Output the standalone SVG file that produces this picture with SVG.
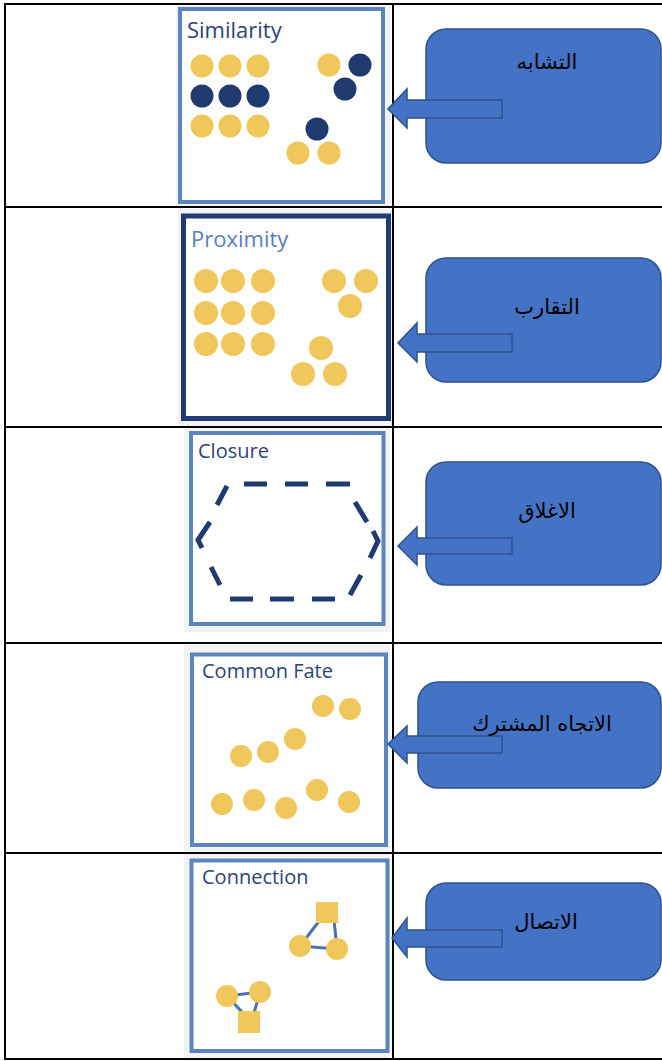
<svg xmlns="http://www.w3.org/2000/svg" width="662" height="1061" viewBox="0 0 662 1061">
<style>
.grid{stroke:#000;stroke-width:2;fill:none}
.bg{fill:#f3f3f3}
.frame{fill:#fff;stroke:#5a85bf;stroke-width:4}
.title{font-family:"Open Sans","Liberation Sans",sans-serif;font-size:20px;fill:#2e4374}
.big{font-size:22px}
.y{fill:#efc75a}
.n{fill:#1f3a6e}
.call{fill:#4472c4;stroke:#2f528f;stroke-width:1.5}
.ar{font-family:"DejaVu Sans","Noto Sans",sans-serif;font-size:21px;fill:#000;text-anchor:middle}
.link{stroke:#4a72b0;stroke-width:3}
.dash{stroke:#203b72;stroke-width:5;fill:none}
</style>
<rect width="662" height="1061" fill="#fff"/>
<g id="table">
<line class="grid" x1="5" y1="4" x2="662" y2="4"/>
<line class="grid" x1="5" y1="207" x2="662" y2="207"/>
<line class="grid" x1="5" y1="427" x2="662" y2="427"/>
<line class="grid" x1="5" y1="643" x2="662" y2="643"/>
<line class="grid" x1="5" y1="853" x2="662" y2="853"/>
<line class="grid" x1="5" y1="1059" x2="662" y2="1059"/>
<line class="grid" x1="5" y1="3" x2="5" y2="1060"/>
<line class="grid" x1="393" y1="3" x2="393" y2="1060"/>
</g>
<g id="similarity">
<rect class="bg" x="176" y="5" width="215" height="201"/>
<rect class="frame" x="180" y="9" width="203" height="193"/>
<text class="title big" x="187" y="38">Similarity</text>
<circle class="y" cx="202" cy="66" r="11.5"/><circle class="y" cx="230" cy="66" r="11.5"/><circle class="y" cx="258" cy="66" r="11.5"/>
<circle class="n" cx="202" cy="96" r="11.5"/><circle class="n" cx="230" cy="96" r="11.5"/><circle class="n" cx="258" cy="96" r="11.5"/>
<circle class="y" cx="202" cy="126" r="11.5"/><circle class="y" cx="230" cy="126" r="11.5"/><circle class="y" cx="258" cy="126" r="11.5"/>
<circle class="y" cx="329" cy="65" r="11.5"/><circle class="n" cx="360" cy="65" r="11.5"/><circle class="n" cx="345" cy="89" r="11.5"/>
<circle class="n" cx="317" cy="129" r="11.5"/><circle class="y" cx="298" cy="153" r="11.5"/><circle class="y" cx="329" cy="153" r="11.5"/>
</g>
<g id="proximity">
<rect class="bg" x="178" y="209" width="214" height="217"/>
<rect x="183.5" y="216" width="205" height="202.5" fill="#fff" stroke="#213b75" stroke-width="5"/>
<text class="title big" x="191" y="247" style="fill:#5a7ebd">Proximity</text>
<circle class="y" cx="206" cy="281" r="12"/><circle class="y" cx="233" cy="281" r="12"/><circle class="y" cx="263" cy="281" r="12"/>
<circle class="y" cx="206" cy="313" r="12"/><circle class="y" cx="233" cy="313" r="12"/><circle class="y" cx="263" cy="313" r="12"/>
<circle class="y" cx="206" cy="344" r="12"/><circle class="y" cx="233" cy="344" r="12"/><circle class="y" cx="263" cy="344" r="12"/>
<circle class="y" cx="334" cy="281" r="12"/><circle class="y" cx="366" cy="281" r="12"/><circle class="y" cx="350" cy="306" r="12"/>
<circle class="y" cx="321" cy="348" r="12"/><circle class="y" cx="303" cy="374" r="12"/><circle class="y" cx="335" cy="374" r="12"/>
</g>
<g id="closure">
<rect class="bg" x="184" y="428" width="206" height="204"/>
<rect class="frame" x="191" y="433" width="192.5" height="191"/>
<text class="title" x="198" y="458">Closure</text>
<path class="dash" d="M244 484H267M285 484H308M326 484H350M217 505L227 486M210 522L198 540L202 548M211 567L220 585M230 599H253M270 599H294M312 599H335M355 502L367 522M373 531L378 541L370 558M361 575L350 595"/>
</g>
<g id="common-fate">
<rect class="bg" x="184" y="645" width="206" height="207"/>
<rect class="frame" x="192" y="654.5" width="194" height="190.5"/>
<text class="title" x="202" y="678">Common Fate</text>
<circle class="y" cx="323" cy="706" r="11"/><circle class="y" cx="350" cy="709" r="11"/>
<circle class="y" cx="295" cy="739" r="11"/><circle class="y" cx="268" cy="752" r="11"/><circle class="y" cx="241" cy="756" r="11"/>
<circle class="y" cx="222" cy="804" r="11"/><circle class="y" cx="254" cy="800" r="11"/><circle class="y" cx="286" cy="808" r="11"/>
<circle class="y" cx="317" cy="790" r="11"/><circle class="y" cx="349" cy="802" r="11"/>
</g>
<g id="connection">
<rect class="bg" x="184" y="854" width="206" height="204"/>
<rect class="frame" x="191.5" y="860.5" width="196" height="190.5"/>
<text class="title" x="202" y="884">Connection</text>
<line class="link" x1="320" y1="920" x2="300" y2="946"/>
<line class="link" x1="334" y1="920" x2="337" y2="949"/>
<line class="link" x1="300" y1="946" x2="337" y2="949"/>
<rect class="y" x="316" y="902" width="22" height="21"/>
<circle class="y" cx="300" cy="946" r="11"/><circle class="y" cx="337" cy="949" r="11"/>
<line class="link" x1="227" y1="996" x2="260" y2="992"/>
<line class="link" x1="227" y1="996" x2="243" y2="1013"/>
<line class="link" x1="260" y1="992" x2="254" y2="1013"/>
<circle class="y" cx="227" cy="996" r="11"/><circle class="y" cx="260" cy="992" r="11"/>
<rect class="y" x="238" y="1011" width="22" height="22"/>
</g>
<g id="callout-similarity">
<rect class="call" x="426" y="29" width="235" height="134" rx="20"/>
<polygon class="call" points="502,100 407,100 407,89 388,109 407,128 407,118 502,118"/>
<text class="ar" x="547" y="69">التشابه</text>
</g>
<g id="callout-proximity">
<rect class="call" x="426" y="258" width="235" height="124" rx="20"/>
<polygon class="call" points="512,334 417,334 417,323 398,343 417,362 417,352 512,352"/>
<text class="ar" x="547" y="314">التقارب</text>
</g>
<g id="callout-closure">
<rect class="call" x="426" y="462" width="235" height="123" rx="20"/>
<polygon class="call" points="512,538 417,538 417,527 398,546 417,565 417,554 512,554"/>
<text class="ar" x="547" y="518">الاغلاق</text>
</g>
<g id="callout-common-fate">
<rect class="call" x="418" y="682" width="243" height="106" rx="20"/>
<polygon class="call" points="502,736 407,736 407,726 388,744 407,763 407,753 502,753"/>
<text class="ar" x="542" y="731">الاتجاه المشترك</text>
</g>
<g id="callout-connection">
<rect class="call" x="426" y="883" width="235" height="97" rx="20"/>
<polygon class="call" points="502,930 407,930 407,918 392,938 407,957 407,947 502,947"/>
<text class="ar" x="546" y="929">الاتصال</text>
</g>
</svg>
